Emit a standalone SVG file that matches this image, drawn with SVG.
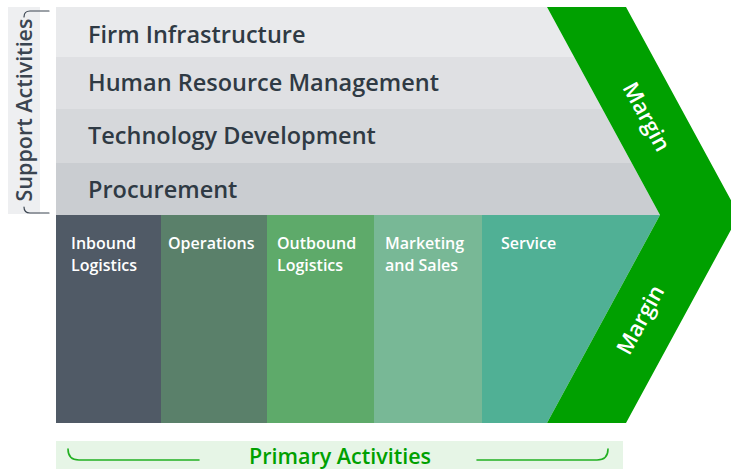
<svg xmlns="http://www.w3.org/2000/svg" width="731" height="469" viewBox="0 0 731 469">
  <style>
    .sup { font-family: "Open Sans", "Liberation Sans", sans-serif; font-weight: 600; font-size: 23.5px; fill: #2f3a44; }
    .pri { font-family: "Open Sans", "Liberation Sans", sans-serif; font-weight: 600; font-size: 16px; fill: #ffffff; }
    .mar { font-family: "Open Sans", "Liberation Sans", sans-serif; font-weight: 600; font-size: 22px; fill: #ffffff; }
    .lbl { font-family: "Open Sans", "Liberation Sans", sans-serif; font-weight: 600; }
    .brk { fill: none; stroke-linecap: round; }
  </style>
  <defs>
    <!-- body of the value chain: everything left of the margin chevron -->
    <clipPath id="body">
      <polygon points="56,7 547,7 660,215 547,423 56,423"/>
    </clipPath>
  </defs>
  <rect width="731" height="469" fill="#ffffff"/>

  <!-- support activities rows -->
  <g clip-path="url(#body)">
    <g id="firm-infrastructure">
      <rect x="56" y="7" width="650" height="50" fill="#e9eaec"/>
      <text class="sup" x="88" y="43">Firm Infrastructure</text>
    </g>
    <g id="human-resource-management">
      <rect x="56" y="57" width="650" height="52" fill="#dfe0e3"/>
      <text class="sup" x="88" y="91">Human Resource Management</text>
    </g>
    <g id="technology-development">
      <rect x="56" y="109" width="650" height="54" fill="#d6d8db"/>
      <text class="sup" x="88" y="144">Technology Development</text>
    </g>
    <g id="procurement">
      <rect x="56" y="163" width="650" height="52" fill="#cacdd1"/>
      <text class="sup" x="88" y="198">Procurement</text>
    </g>

    <!-- primary activities columns -->
    <g id="inbound-logistics">
      <rect x="56" y="215" width="105" height="208" fill="#505a66"/>
      <text class="pri" x="71" y="249">Inbound</text>
      <text class="pri" x="71" y="271">Logistics</text>
    </g>
    <g id="operations">
      <rect x="161" y="215" width="106" height="208" fill="#5a806a"/>
      <text class="pri" x="168" y="249">Operations</text>
    </g>
    <g id="outbound-logistics">
      <rect x="267" y="215" width="107" height="208" fill="#5eaa6a"/>
      <text class="pri" x="277" y="249">Outbound</text>
      <text class="pri" x="277" y="271">Logistics</text>
    </g>
    <g id="marketing-and-sales">
      <rect x="374" y="215" width="108" height="208" fill="#78b896"/>
      <text class="pri" x="385" y="249">Marketing</text>
      <text class="pri" x="385" y="271">and Sales</text>
    </g>
    <g id="service">
      <rect x="482" y="215" width="224" height="208" fill="#50b095"/>
      <text class="pri" x="501" y="249">Service</text>
    </g>
  </g>

  <!-- margin chevron -->
  <g id="margin">
    <polygon points="547,7 626,7 739,215 626,423 547,423 660,215" fill="#00a000"/>
    <text class="mar" text-anchor="middle" transform="translate(646,117) rotate(61.5)" dy="7">Margin</text>
    <text class="mar" text-anchor="middle" transform="translate(641,320) rotate(-61.5)" dy="7">Margin</text>
  </g>

  <!-- support activities label with bracket -->
  <g id="support-activities">
    <rect x="8" y="7" width="32" height="207" fill="#eeeff1"/>
    <text class="lbl" font-size="21.5" fill="#3a4450" text-anchor="middle" transform="translate(32,110) rotate(-90)">Support Activities</text>
    <path class="brk" stroke="#3a4450" stroke-width="1.2" d="M24,17 Q24,11 30,11 L49,11"/>
    <path class="brk" stroke="#3a4450" stroke-width="1.2" d="M24,207 Q24,213 30,213 L49,213"/>
  </g>

  <!-- primary activities label with bracket -->
  <g id="primary-activities">
    <rect x="56" y="441" width="567" height="28" fill="#e6f5e6"/>
    <text class="lbl" font-size="21.5" fill="#00a000" text-anchor="middle" x="340" y="464">Primary Activities</text>
    <path class="brk" stroke="#22b022" stroke-width="1.6" d="M68,449 Q68,460 79,460 L199,460"/>
    <path class="brk" stroke="#22b022" stroke-width="1.6" d="M477,460 L597,460 Q608,460 608,449"/>
  </g>
</svg>
